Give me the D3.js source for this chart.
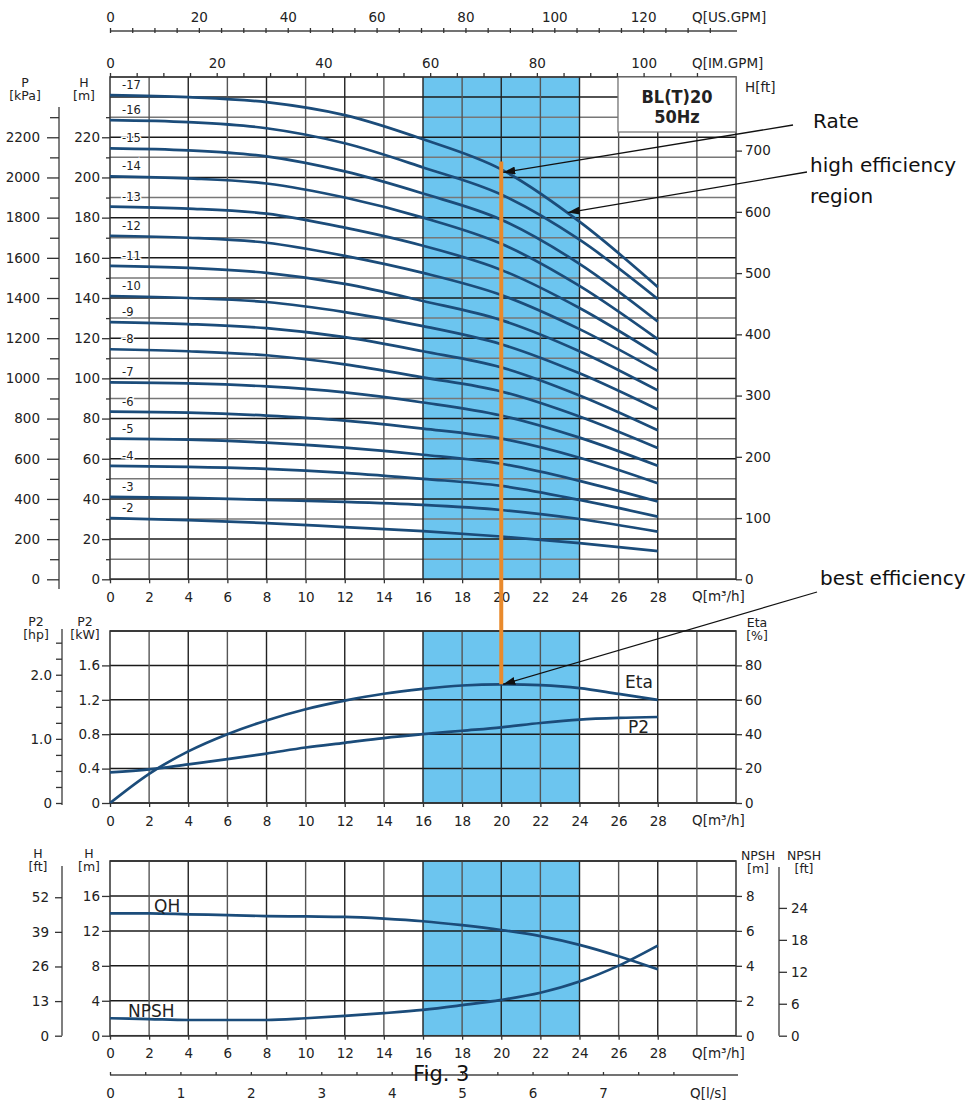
<!DOCTYPE html>
<html lang="en">
<head>
<meta charset="UTF-8">
<title>BL(T)20 50Hz</title>
<script src="https://cdn.jsdelivr.net/npm/d3@7"></script>
<style>
  body { margin: 0; background: #fff; }
  text { font-family: "DejaVu Sans", sans-serif; fill: #222; }
  .axis text { font-size: 13.5px; }
  .axis path.domain { display: none; }
  .axis line { stroke: #333; stroke-width: 1.3px; }
  .axis-title { font-size: 13.5px; }
  .title { font-size: 12.5px; text-anchor: middle; }
  .note { font-size: 20px; fill: #111; }
  .curve-name { font-size: 17px; fill: #222; }
  .stage { font-size: 11.5px; paint-order: stroke; stroke: #fff; stroke-width: 3px; }
  .model { font-family: "DejaVu Sans Condensed", "DejaVu Sans", sans-serif; font-stretch: condensed; font-size: 18px; font-weight: bold; text-anchor: middle; }
</style>
</head>
<body>
<script>
    // ---- data ----
    // flow points used for the H-Q curves of every stage count [m3/h]
    const stageQ = [0, 4, 8, 12, 16, 20, 24, 28];
    const stageNames = ["-17", "-16", "-15", "-14", "-13", "-12", "-11", "-10", "-9", "-8", "-7", "-6", "-5", "-4", "-3", "-2"];
    // head [m] of each stage count at stageQ
    const stageHead = [
        [241, 240, 237.5, 231, 219, 204, 178, 145.5],
        [228.5, 227.5, 224.5, 217, 205, 191.5, 169, 139.5],
        [214.5, 213.5, 210.5, 203, 192, 179, 157, 128.3],
        [200.5, 199.5, 197, 190, 180, 167, 146, 119.5],
        [185.5, 184.5, 182, 175, 166, 154, 135, 111.7],
        [171, 170, 167.5, 161, 152.5, 141.5, 124.5, 103.7],
        [156, 155, 152.5, 147, 138.5, 129, 113.5, 94],
        [141, 140, 138, 133, 126, 117, 102.5, 84.5],
        [128, 127, 125, 120.5, 113.5, 105.5, 91.5, 74.2],
        [114.5, 113.5, 111.5, 107, 100.5, 93.5, 81, 65.3],
        [98, 97.5, 96, 93, 88, 81.5, 70.5, 56.5],
        [83.5, 83, 81.5, 79, 75, 70, 60.5, 47.8],
        [70, 69.5, 68, 65.5, 62, 57.5, 49, 38.7],
        [56.5, 56, 55, 53, 50, 46.5, 39.5, 31.2],
        [41, 40.5, 39.5, 38.5, 37, 34.5, 30, 23.7],
        [30.4, 29.5, 28, 26, 24, 21.3, 18, 14]
    ];

    // flow points for the power / efficiency / single stage curves [m3/h]
    const flowQ = [0, 2, 4, 6, 8, 10, 12, 14, 16, 18, 20, 22, 24, 26, 28];
    const etaPct = [0, 17, 30, 40, 48, 54.5, 59.5, 63.5, 66.3, 68.3, 69, 68.5, 66.8, 63.4, 60];
    const p2kW = [0.355, 0.39, 0.45, 0.51, 0.575, 0.645, 0.70, 0.755, 0.80, 0.84, 0.88, 0.93, 0.97, 0.99, 1.0];
    const qhHead = [14.0, 14.0, 13.9, 13.8, 13.7, 13.65, 13.6, 13.4, 13.1, 12.65, 12.1, 11.4, 10.4, 9.1, 7.6];
    const npshM = [1.0, 0.95, 0.9, 0.9, 0.9, 1.0, 1.13, 1.29, 1.48, 1.75, 2.05, 2.46, 3.1, 4.01, 5.16];

    // high efficiency region and rated point
    const highEffRange = [16, 24];
    const rateQ = 20;
    const rateHead = 208;

    // tick values
    const qTicks = d3.range(0, 30, 2);
    const headTicks = d3.range(0, 240, 20);
    const kpaTicks = d3.range(0, 2400, 200);
    const ftTicks = d3.range(0, 800, 100);
    const kwTicks = [0, 0.4, 0.8, 1.2, 1.6];
    const hpTicks = [0, 1.0, 2.0];
    const etaTicks = [0, 20, 40, 60, 80];
    const hBotTicks = [0, 4, 8, 12, 16];
    const hftTicks = [0, 13, 26, 39, 52];
    const npshTicks = [0, 2, 4, 6, 8];
    const npshFtTicks = [0, 6, 12, 18, 24];
    const usTicks = d3.range(0, 140, 20);
    const imTicks = d3.range(0, 120, 20);
    const lsTicks = d3.range(0, 8, 1);

    // unit conversions
    const M_TO_FT = 3.28084;
    const KW_TO_HP = 1 / 0.7457;
    const M3H_TO_USGPM = 4.40287;
    const M3H_TO_IMGPM = 3.66615;
    const M3H_TO_LS = 1 / 3.6;

    // ---- layout ----
    const width = 973, height = 1105;
    const svg = d3.select("body").append("svg").attr("width", width).attr("height", height);

    const x = d3.scaleLinear().domain([0, 32]).range([110, 736]);
    const yTop = d3.scaleLinear().domain([0, 250]).range([579.3, 77]);
    const yMid = d3.scaleLinear().domain([0, 2]).range([803, 631]);
    const yBot = d3.scaleLinear().domain([0, 20]).range([1035.7, 861]);

    const blue = "#6cc5ef";
    const curveColor = "#1b4c7a";
    const plain = d => (d === 0 ? "0" : String(d));

    svg.append("defs").append("marker")
        .attr("id", "arrow")
        .attr("viewBox", "0 0 12 8")
        .attr("refX", 12).attr("refY", 4)
        .attr("markerWidth", 12).attr("markerHeight", 8)
        .attr("markerUnits", "userSpaceOnUse")
        .attr("orient", "auto")
        .append("path").attr("d", "M0,0L12,4L0,8Z").attr("fill", "#111");

    //画一个面板的网格和高效区
    function drawPanel(y, step, yMax, darkEvery) {
        const g = svg.append("g");
        g.append("rect")
            .attr("x", x(highEffRange[0])).attr("width", x(highEffRange[1]) - x(highEffRange[0]))
            .attr("y", y(yMax)).attr("height", y(0) - y(yMax))
            .attr("fill", blue);
        const hv = d3.range(0, yMax + step / 2, step);
        g.selectAll("line.h").data(hv).enter().append("line")
            .attr("x1", x(0)).attr("x2", x(32))
            .attr("y1", d => y(d)).attr("y2", d => y(d))
            .attr("stroke", (d, i) => (i % darkEvery === 0 ? "#1a1a1a" : "#777"))
            .attr("stroke-width", 1.5);
        g.selectAll("line.v").data(d3.range(2, 32, 2)).enter().append("line")
            .attr("x1", d => x(d)).attr("x2", d => x(d))
            .attr("y1", y(0)).attr("y2", y(yMax))
            .attr("stroke", d => (d % 4 === 0 ? "#222" : "#555"))
            .attr("stroke-width", 1.4);
        g.append("rect")
            .attr("x", x(0)).attr("y", y(yMax))
            .attr("width", x(32) - x(0)).attr("height", y(0) - y(yMax))
            .attr("fill", "none").attr("stroke", "#333").attr("stroke-width", 1.5);
        return g;
    }

    function axisG(tx, ty) {
        return svg.append("g").attr("class", "axis").attr("transform", `translate(${tx},${ty})`);
    }

    function vLine(xp, y1, y2) {
        svg.append("line").attr("x1", xp).attr("x2", xp).attr("y1", y1).attr("y2", y2)
            .attr("stroke", "#555").attr("stroke-width", 1.5);
    }

    function title(xp, yp, lines) {
        lines.forEach((t, i) => {
            svg.append("text").attr("class", "title").attr("x", xp).attr("y", yp + i * 13).text(t);
        });
    }

    function qAxisBottom(y) {
        axisG(0, y(0)).call(d3.axisBottom(x).tickValues(qTicks).tickSize(4).tickPadding(9).tickFormat(plain));
        svg.append("text").attr("class", "axis-title").attr("x", 692).attr("y", y(0) + 22).text("Q[m³/h]");
    }

    const line = d3.line().curve(d3.curveMonotoneX);

    // ================= top panel: H-Q =================
    drawPanel(yTop, 10, 250, 2);

    // stage curves
    const stageG = svg.append("g");
    stageHead.forEach((heads, i) => {
        const pts = stageQ.map((q, j) => [x(q), yTop(heads[j])]);
        stageG.append("path").attr("d", line(pts))
            .attr("fill", "none").attr("stroke", curveColor).attr("stroke-width", 2.7);
        stageG.append("text").attr("class", "stage")
            .attr("x", x(0) + 12).attr("y", yTop(heads[0]) - 6)
            .text(stageNames[i]);
    });

    // model box
    svg.append("rect").attr("x", 618).attr("y", yTop(250)).attr("width", x(32) - 618).attr("height", 55)
        .attr("fill", "#fff").attr("stroke", "#777").attr("stroke-width", 1.3);
    svg.append("text").attr("class", "model").attr("x", 677).attr("y", 103).text("BL(T)20");
    svg.append("text").attr("class", "model").attr("x", 677).attr("y", 123).text("50Hz");

    // left H[m]
    axisG(x(0), 0).call(d3.axisLeft(yTop).tickValues(headTicks).tickSize(8).tickPadding(2).tickFormat(plain));
    axisG(x(0), 0).call(d3.axisLeft(yTop).tickValues(d3.range(10, 250, 20)).tickSize(4).tickFormat(""));
    title(84, 87, ["H", "[m]"]);

    // P[kPa]
    const kpa = d3.scaleLinear().domain([0, 2500]).range(yTop.range());
    vLine(59, 107, 589);
    axisG(59, 0).call(d3.axisLeft(kpa).tickValues(kpaTicks).tickSize(12).tickPadding(7).tickFormat(plain));
    axisG(59, 0).call(d3.axisLeft(kpa).tickValues(d3.range(100, 2400, 200)).tickSize(9).tickFormat(""));
    title(25, 87, ["P", "[kPa]"]);

    // right H[ft]
    const ftTop = d3.scaleLinear().domain([0, 250 * M_TO_FT]).range(yTop.range());
    axisG(x(32), 0).call(d3.axisRight(ftTop).tickValues(ftTicks).tickSize(6).tickPadding(3).tickFormat(plain));
    svg.append("text").attr("class", "axis-title").attr("x", 745).attr("y", 92).text("H[ft]");

    qAxisBottom(yTop);

    // IM.GPM axis on top of the panel
    const im = d3.scaleLinear().domain([0, 32 * M3H_TO_IMGPM]).range(x.range());
    axisG(0, yTop(250)).call(d3.axisTop(im).tickValues(d3.range(0, 115, 5)).tickSize(4).tickPadding(5)
        .tickFormat(d => (imTicks.includes(d) ? d : "")));
    svg.append("text").attr("class", "axis-title").attr("x", 692).attr("y", 68).text("Q[IM.GPM]");

    // US.GPM axis
    const us = d3.scaleLinear().domain([0, 32 * M3H_TO_USGPM]).range(x.range());
    svg.append("line").attr("x1", x(0)).attr("x2", 737).attr("y1", 31).attr("y2", 31)
        .attr("stroke", "#444").attr("stroke-width", 1.3);
    axisG(0, 31).call(d3.axisTop(us).tickValues(d3.range(0, 140, 5)).tickSizeInner(3).tickSizeOuter(0).tickPadding(6)
        .tickFormat(d => (usTicks.includes(d) ? d : "")));
    axisG(0, 31).call(d3.axisBottom(us).tickValues(d3.range(0, 140, 5)).tickSize(2).tickFormat(""));
    svg.append("text").attr("class", "axis-title").attr("x", 692).attr("y", 22).text("Q[US.GPM]");

    // ================= middle panel: P2 / Eta =================
    drawPanel(yMid, 0.4, 2, 1);
    const eta = d3.scaleLinear().domain([0, 100]).range(yMid.range());

    svg.append("path").attr("d", line(flowQ.map((q, j) => [x(q), eta(etaPct[j])])))
        .attr("fill", "none").attr("stroke", curveColor).attr("stroke-width", 2.7);
    svg.append("path").attr("d", line(flowQ.map((q, j) => [x(q), yMid(p2kW[j])])))
        .attr("fill", "none").attr("stroke", curveColor).attr("stroke-width", 2.7);
    svg.append("text").attr("class", "curve-name").attr("x", 625).attr("y", 688).text("Eta");
    svg.append("text").attr("class", "curve-name").attr("x", 628).attr("y", 733).text("P2");

    axisG(x(0), 0).call(d3.axisLeft(yMid).tickValues(kwTicks).tickSize(8).tickPadding(2).tickFormat(plain));
    title(85, 626, ["P2", "[kW]"]);

    const hp = d3.scaleLinear().domain([0, 2 * KW_TO_HP]).range(yMid.range());
    vLine(62, 629, 805);
    axisG(62, 0).call(d3.axisLeft(hp).tickValues(d3.range(0, 2.6, 0.25)).tickSize(6).tickPadding(4)
        .tickFormat(d => (hpTicks.includes(d) ? (d === 0 ? "0" : d.toFixed(1)) : "")));
    title(36, 626, ["P2", "[hp]"]);

    axisG(x(32), 0).call(d3.axisRight(eta).tickValues(etaTicks).tickSize(6).tickPadding(3).tickFormat(plain));
    title(757, 627, ["Eta", "[%]"]);

    qAxisBottom(yMid);

    // ================= bottom panel: single stage QH / NPSH =================
    drawPanel(yBot, 4, 20, 1);
    const npsh = d3.scaleLinear().domain([0, 10]).range(yBot.range());

    svg.append("path").attr("d", line(flowQ.map((q, j) => [x(q), yBot(qhHead[j])])))
        .attr("fill", "none").attr("stroke", curveColor).attr("stroke-width", 2.7);
    svg.append("path").attr("d", line(flowQ.map((q, j) => [x(q), npsh(npshM[j])])))
        .attr("fill", "none").attr("stroke", curveColor).attr("stroke-width", 2.7);
    svg.append("text").attr("class", "curve-name").attr("x", 154).attr("y", 912).text("QH");
    svg.append("text").attr("class", "curve-name").attr("x", 128).attr("y", 1017).text("NPSH");

    axisG(x(0), 0).call(d3.axisLeft(yBot).tickValues(hBotTicks).tickSize(8).tickPadding(2).tickFormat(plain));
    title(89, 858, ["H", "[m]"]);

    const hft = d3.scaleLinear().domain([0, 20 * M_TO_FT]).range(yBot.range());
    vLine(62, 866, yBot(0));
    axisG(62, 0).call(d3.axisLeft(hft).tickValues(hftTicks).tickSize(7).tickPadding(6).tickFormat(plain));
    title(38, 858, ["H", "[ft]"]);

    axisG(x(32), 0).call(d3.axisRight(npsh).tickValues(npshTicks).tickSize(6).tickPadding(4).tickFormat(plain));
    title(758, 860, ["NPSH", "[m]"]);

    const npshFt = d3.scaleLinear().domain([0, 10 * M_TO_FT]).range(yBot.range());
    vLine(779, 867, yBot(0));
    axisG(779, 0).call(d3.axisRight(npshFt).tickValues(npshFtTicks).tickSize(8).tickPadding(4).tickFormat(plain));
    title(804, 860, ["NPSH", "[ft]"]);

    qAxisBottom(yBot);

    // l/s axis
    const ls = d3.scaleLinear().domain([0, 32 * M3H_TO_LS]).range(x.range());
    svg.append("line").attr("x1", x(0)).attr("x2", 738).attr("y1", 1075).attr("y2", 1075)
        .attr("stroke", "#444").attr("stroke-width", 1.3);
    axisG(0, 1075).call(d3.axisBottom(ls).tickValues(d3.range(0, 8.5, 0.5)).tickSize(0).tickPadding(13)
        .tickFormat(d => (lsTicks.includes(d) ? d : "")));
    axisG(0, 1075).call(d3.axisTop(ls).tickValues(d3.range(0, 8.5, 0.5)).tickSize(3).tickFormat(""));
    svg.append("text").attr("class", "axis-title").attr("x", 690).attr("y", 1098).text("Q[l/s]");

    // ================= rated point and notes =================
    svg.append("line")
        .attr("x1", x(rateQ)).attr("x2", x(rateQ))
        .attr("y1", yTop(rateHead)).attr("y2", eta(etaPct[flowQ.indexOf(rateQ)]))
        .attr("stroke", "#e98a2c").attr("stroke-width", 4);

    const notes = [
        { from: [793, 125], to: [x(rateQ) + 2, yTop(stageHead[0][5]) + 3], lines: ["Rate"], tx: 813, ty: 128 },
        { from: [807, 172], to: [x(23.4), yTop(182.5)], lines: ["high efficiency", "region"], tx: 810, ty: 172 },
        { from: [817, 592], to: [x(rateQ) + 2, eta(etaPct[flowQ.indexOf(rateQ)])], lines: ["best efficiency"], tx: 820, ty: 585 }
    ];
    notes.forEach(n => {
        svg.append("line")
            .attr("x1", n.from[0]).attr("y1", n.from[1])
            .attr("x2", n.to[0]).attr("y2", n.to[1])
            .attr("stroke", "#111").attr("stroke-width", 1.3)
            .attr("marker-end", "url(#arrow)");
        n.lines.forEach((t, i) => {
            svg.append("text").attr("class", "note").attr("x", n.tx).attr("y", n.ty + i * 31).text(t);
        });
    });

    svg.append("text").attr("class", "note").attr("x", 413).attr("y", 1081)
        .style("font-size", "21px").text("Fig. 3");
</script>
</body>
</html>
